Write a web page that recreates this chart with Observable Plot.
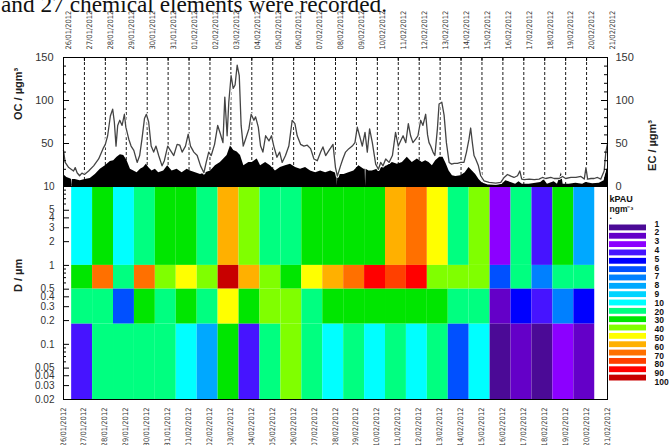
<!DOCTYPE html>
<html><head><meta charset="utf-8">
<script src="https://cdn.jsdelivr.net/npm/d3@7"></script>
<script src="https://cdn.jsdelivr.net/npm/@observablehq/plot@0.6"></script>
<style>
html,body{margin:0;padding:0;background:#fff;}
#wrap{position:relative;width:672px;height:445px;overflow:hidden;font-family:"Liberation Sans",Arial,sans-serif;}
#wrap svg{max-width:none !important;}
</style></head><body>
<div id="wrap"></div>
<script>
// ---- tick labels ----
const dateLabels = ["26/01/2012","27/01/2012","28/01/2012","29/01/2012","30/01/2012","31/01/2012","01/02/2012","02/02/2012","03/02/2012","04/02/2012","05/02/2012","06/02/2012","07/02/2012","08/02/2012","09/02/2012","10/02/2012","11/02/2012","12/02/2012","13/02/2012","14/02/2012","15/02/2012","16/02/2012","17/02/2012","18/02/2012","19/02/2012","20/02/2012","21/02/2012"];
const sizeTicks = [10,5,4,3,2,1,0.5,0.4,0.3,0.2,0.1,0.05,0.04,0.03,0.02];
const sizeMinorTicks = [9,8,7,6,0.9,0.8,0.7,0.6,0.09,0.08,0.07,0.06];
const concTicks = [0,50,100,150];
const concMinorTicks = [0,10,20,30,40,50,60,70,80,90,100,110,120,130,140,150];

// ---- OC series (days since 26/01/2012 00:00, µg m-3) ----
const ocDay = [0,0.08,0.25,0.48,0.56,0.65,0.77,0.88,1.0,1.2,
 1.44,1.68,1.89,2.0,2.11,2.24,2.35,2.43,2.51,2.59,
 2.69,2.8,2.91,2.98,3.12,3.23,3.36,3.52,3.64,3.75,
 3.87,3.96,4.07,4.19,4.31,4.42,4.55,4.71,4.82,4.98,
 5.11,5.27,5.43,5.56,5.67,5.83,5.96,6.07,6.23,6.39,
 6.55,6.71,6.82,6.94,7.06,7.22,7.37,7.5,7.62,7.71,
 7.82,7.9,8.01,8.11,8.2,8.3,8.4,8.49,8.59,8.7,
 8.86,8.97,9.1,9.18,9.31,9.42,9.53,9.66,9.82,9.94,
 10.05,10.2,10.33,10.45,10.61,10.77,10.93,11.06,11.17,11.33,
 11.49,11.65,11.81,11.97,12.13,12.29,12.4,12.53,12.69,12.88,
 13.0,13.09,13.24,13.35,13.48,13.64,13.8,13.93,14.04,14.15,
 14.28,14.41,14.52,14.63,14.76,14.92,15.05,15.16,15.27,15.4,
 15.56,15.72,15.87,16.0,16.11,16.23,16.36,16.48,16.59,16.7,
 16.83,16.94,17.07,17.18,17.31,17.4,17.47,17.55,17.66,17.75,
 17.87,17.95,18.08,18.19,18.3,18.43,18.55,18.67,18.83,18.99,
 19.14,19.26,19.38,19.46,19.54,19.62,19.7,19.83,19.94,20.1,
 20.34,20.66,20.9,21.06,21.22,21.38,21.53,21.7,21.81,21.9,
 22.02,22.26,22.5,22.73,22.89,23.05,23.29,23.45,23.69,23.85,
 24.0,24.25,24.49,24.73,24.89,24.97,25.05,25.21,25.36,25.52,
 25.68,25.84,25.92,26.0];
const ocValue = [42,28,22,18,22,16,12.5,15.6,14,18,
 24,32,44,49,59,82,90,75,47,71,
 77,71,84,69,55,47,42,28,36,55,
 79,84,75,47,40,47,36,24,30,47,
 42,36,49,48,40,47,61,47,40,36,
 24,16,28,40,36,49,71,61,51,104,
 59,98,129,114,118,141,129,71,47,55,
 67,84,77,81,69,47,40,59,53,59,
 47,34,40,28,36,47,77,73,59,49,
 47,48,44,32,30,40,46,36,42,49,
 22,12,24,32,40,44,47,51,69,59,
 47,63,40,67,51,26,20,28,24,32,
 28,36,63,47,53,59,51,73,59,51,
 55,59,77,71,84,60,51,47,40,36,
 67,96,98,83,51,28,26,27,27,28,
 28,40,55,68,51,36,32,24,12.5,6.6,
 4.7,3.9,4.7,10.5,14,12,10.5,12.5,18,8.6,
 8,8.6,8,8.6,10.5,9.3,10.5,9.3,9.3,11.7,
 9.3,10.5,10.5,11.7,8.6,22,8.6,9.3,9.3,10.5,
 8.6,18,40,50];

// ---- EC series ----
const ecDay = [0,0.16,0.32,0.39,0.41,0.43,0.56,0.8,1.04,1.28,
 1.52,1.76,2.0,2.24,2.4,2.56,2.72,2.88,3.04,3.2,
 3.36,3.52,3.68,3.83,3.96,4.07,4.23,4.39,4.55,4.79,
 4.98,5.19,5.43,5.67,5.91,6.07,6.31,6.55,6.79,7.03,
 7.26,7.5,7.66,7.82,7.98,8.14,8.3,8.46,8.62,8.86,
 9.02,9.26,9.42,9.66,9.89,10.13,10.37,10.61,10.85,11.09,
 11.33,11.57,11.81,12.05,12.29,12.53,12.77,12.97,13.07,13.09,
 13.11,13.41,13.64,13.88,14.12,14.36,14.42,14.44,14.46,14.6,
 14.76,15.0,15.24,15.48,15.72,15.96,16.2,16.43,16.67,16.91,
 17.15,17.31,17.47,17.63,17.79,17.98,18.14,18.3,18.43,18.59,
 18.75,18.99,19.2,19.38,19.54,19.7,19.86,20.02,20.3,20.66,
 20.98,21.14,21.38,21.61,21.77,21.93,22.26,22.58,22.81,22.97,
 23.13,23.45,23.61,23.8,23.88,24.17,24.49,24.81,24.97,25.29,
 25.61,25.84,25.97,26.0];
const ecValue = [14,10.5,9,8,0,8,8,6.6,8,9.3,
 14,20,24,29,30,34,37,36,30,20,
 18,16,20,22,26,22,18,20,16,18,
 24,18,20,16,20,18,16,14,16,18,
 24,28,32,36,47,42,40,36,24,28,
 28,32,24,28,24,18,22,24,26,22,
 20,22,18,16,18,16,18,16,15,1,
 14,14,16,18,24,20,20,0,20,18,
 18,20,22,24,28,26,28,34,28,32,
 28,30,28,24,30,34,34,26,18,12.5,
 11.7,12.5,16,22,18,14,8,4,1.6,1.6,
 2.7,6.6,4.7,2.7,5.5,2.7,2.7,3.9,4.7,7.8,
 2.7,5.5,2.7,16,2.7,2.7,3.9,2.7,4.7,3.1,
 3.9,6.6,20,20];

// ---- kPAU per impactor stage (daily samples, 25 days) ----
const stageEdges = [10, 1, 0.5, 0.18, 0.02];
const sampleOffset = 0.39; // sampling days start ~09:00
const kpauStage1 = [10,30,10,20,30,30,20,60,40,20,20,30,30,30,30,60,70,50,20,40,3,20,4,30,8];
const kpauStage2 = [30,70,20,70,40,50,40,100,60,40,30,50,60,70,90,80,90,40,40,40,6,20,7,20,20];
const kpauStage3 = [20,20,6,30,20,30,20,50,30,40,40,20,30,30,30,30,30,30,20,20,2,5,4,7,5];
const kpauStage4 = [4,20,20,20,20,10,8,30,4,20,40,20,10,20,10,20,10,20,6,10,1,2,1,3,2];

const levels = [1,2,3,4,5,6,7,8,9,10,20,30,40,50,60,70,80,90,100];
const levelColors = ["#4b0a96","#6400c8","#8c00ff","#4614ff","#0000ff","#0050ff","#0080ff","#00a8ff","#00d4ff","#00ffff","#00ff80","#00e600","#80ff00","#ffff00","#ffb000","#ff7000","#ff4000","#ff0000","#c80000"];

// ---- build ----
const wrap = document.getElementById("wrap");
const W = 672, mL = 63, mR = 65;
const plotW = W - mL - mR;
const days = d3.range(dateLabels.length);
const xDomain = [0, dateLabels.length - 1];
const oc = ocDay.map((d, i) => ({d, v: ocValue[i]}));
const ec = ecDay.map((d, i) => ({d, v: ecValue[i]}));
const stages = [kpauStage1, kpauStage2, kpauStage3, kpauStage4];
const cells = stages.flatMap((row, r) => row.map((v, c) => ({
  x1: c + sampleOffset, x2: c + 1 + sampleOffset, y1: stageEdges[r + 1], y2: stageEdges[r], v
})));
const font = '"Liberation Sans", Arial, sans-serif';
const narrow = '"Liberation Sans Narrow", "DejaVu Sans Condensed", "Liberation Sans", sans-serif';
const colorScale = {type: "ordinal", domain: levels, range: levelColors};
const baseStyle = {background: "transparent", fontFamily: font, overflow: "visible", maxWidth: "none"};

function place(svg, top) {
  svg.style.position = "absolute";
  svg.style.left = "0px";
  svg.style.top = top + "px";
  svg.style.maxWidth = "none";
  wrap.appendChild(svg);
  return svg;
}
function squeeze(svg, label, len) {
  svg.querySelectorAll(`g[aria-label="${label}"] text`).forEach(t => {
    t.setAttribute("textLength", len);
    t.setAttribute("lengthAdjust", "spacingAndGlyphs");
  });
}

// caption fragment at top
const cap = document.createElementNS("http://www.w3.org/2000/svg", "svg");
cap.setAttribute("width", 672); cap.setAttribute("height", 20);
cap.innerHTML = '<text x="1" y="12" font-family="Liberation Serif, Times New Roman, serif" font-size="23" fill="#111" textLength="386" lengthAdjust="spacingAndGlyphs">and 27 chemical elements were recorded.</text>';
place(cap, 0);

// top panel: OC / EC
const topPanel = Plot.plot({
  width: W, height: 190,
  marginLeft: mL, marginRight: mR, marginTop: 57, marginBottom: 4,
  x: {domain: xDomain, axis: null},
  y: {domain: [0, 150], axis: null},
  style: baseStyle,
  marks: [
    Plot.ruleX(days.slice(1, -1), {x: d => d, stroke: "black", strokeDasharray: "3,2", strokeWidth: 0.9}),
    Plot.areaY(ec, {x: "d", y: "v", fill: "black"}),
    Plot.lineY(oc, {x: "d", y: "v", stroke: "white", strokeWidth: 3.2}),
    Plot.lineY(oc, {x: "d", y: "v", stroke: "#444", strokeWidth: 1.3}),
    Plot.frame({stroke: "black"}),
    Plot.tickX(days, {x: d => d, insetBottom: 125, stroke: "black"}),
    Plot.tickY(concMinorTicks, {y: d => d, insetRight: plotW - 3, stroke: "black"}),
    Plot.tickY(concTicks, {y: d => d, insetRight: plotW - 6, stroke: "black"}),
    Plot.tickY(concMinorTicks, {y: d => d, insetLeft: plotW - 3, stroke: "black"}),
    Plot.tickY(concTicks, {y: d => d, insetLeft: plotW - 6, stroke: "black"}),
    Plot.text(concTicks.filter(d => d > 0), {y: d => d, text: d => String(d), frameAnchor: "left", textAnchor: "end", dx: -10, fontSize: 11, fill: "#333"}),
    Plot.text(concTicks, {y: d => d, text: d => String(d), frameAnchor: "right", textAnchor: "start", dx: 8, fontSize: 11, fill: "#333"}),
    Plot.text(dateLabels, {x: (d, i) => i, text: d => d, frameAnchor: "top", rotate: -90, textAnchor: "start", dy: -8, dx: 2.5, fontSize: 7.5, fontFamily: narrow, fill: "#333", ariaLabel: "date-top"}),
    Plot.text(["OC / µgm³"], {frameAnchor: "left", rotate: -90, dx: -45, dy: -2, fontWeight: "bold", fontSize: 11, fill: "#222"}),
    Plot.text(["EC / µgm³"], {frameAnchor: "right", rotate: -90, dx: 45, dy: -2, fontWeight: "bold", fontSize: 11, fill: "#222"})
  ]
});
squeeze(topPanel, "date-top", 42.5);
place(topPanel, 0);

// heatmap panel: kPAU by size
const heat = Plot.plot({
  width: W, height: 259,
  marginLeft: mL, marginRight: mR, marginTop: 0, marginBottom: 46,
  x: {domain: xDomain, axis: null},
  y: {type: "log", domain: [0.02, 10], axis: null},
  color: colorScale,
  style: baseStyle,
  marks: [
    Plot.rect(cells, {x1: "x1", x2: "x2", y1: "y1", y2: "y2", fill: "v"}),
    Plot.frame({stroke: "black"}),
    Plot.tickY(sizeTicks, {y: d => d, insetRight: plotW - 6, stroke: "black"}),
    Plot.tickY(sizeMinorTicks, {y: d => d, insetRight: plotW - 3, stroke: "black"}),
    Plot.text(sizeTicks, {y: d => d, text: d => String(d), frameAnchor: "left", textAnchor: "end", dx: -9, fontSize: 10, fill: "#333"}),
    Plot.text(dateLabels, {x: (d, i) => i, text: d => d, frameAnchor: "bottom", rotate: -90, textAnchor: "end", dy: 8, dx: 2, fontSize: 7.5, fontFamily: narrow, fill: "#333", ariaLabel: "date-bottom"}),
    Plot.text(["D / µm"], {frameAnchor: "left", rotate: -90, dx: -45, dy: -1, fontWeight: "bold", fontSize: 11, fill: "#222"})
  ]
});
squeeze(heat, "date-bottom", 42.5);
place(heat, 186);

// legend swatches (full-width overlay, colour scale shared with heatmap)
const legSw = Plot.plot({
  width: W, height: 259,
  marginLeft: 609, marginRight: 26, marginTop: 36, marginBottom: 62,
  y: {type: "band", domain: levels, padding: 0.3, round: false, axis: null},
  x: {axis: null},
  color: colorScale,
  style: baseStyle,
  marks: [Plot.cell(levels, {y: d => d, fill: d => d})]
});
place(legSw, 186);

// legend labels
const legLab = Plot.plot({
  width: W, height: 259,
  marginLeft: 609, marginRight: 0, marginTop: 37.3, marginBottom: 63.3,
  y: {type: "point", domain: levels, padding: 0, round: false, axis: null},
  x: {axis: null},
  style: baseStyle,
  marks: [
    Plot.text(levels, {y: d => d, text: d => String(d), frameAnchor: "left", textAnchor: "start", dx: 45, fontWeight: "bold", fontSize: 8.5, fill: "#111"}),
    Plot.text(["kPAU"], {frameAnchor: "top-left", textAnchor: "start", dy: -28.3, fontWeight: "bold", fontSize: 9, fill: "#111"}),
    Plot.text(["ngm⁻³"], {frameAnchor: "top-left", textAnchor: "start", dy: -18.3, fontWeight: "bold", fontSize: 8.5, fill: "#111"}),
    Plot.text(["."], {frameAnchor: "top-left", textAnchor: "start", dy: -11, fontWeight: "bold", fontSize: 9, fill: "#111"})
  ]
});
place(legLab, 186);
</script>
</body></html>
